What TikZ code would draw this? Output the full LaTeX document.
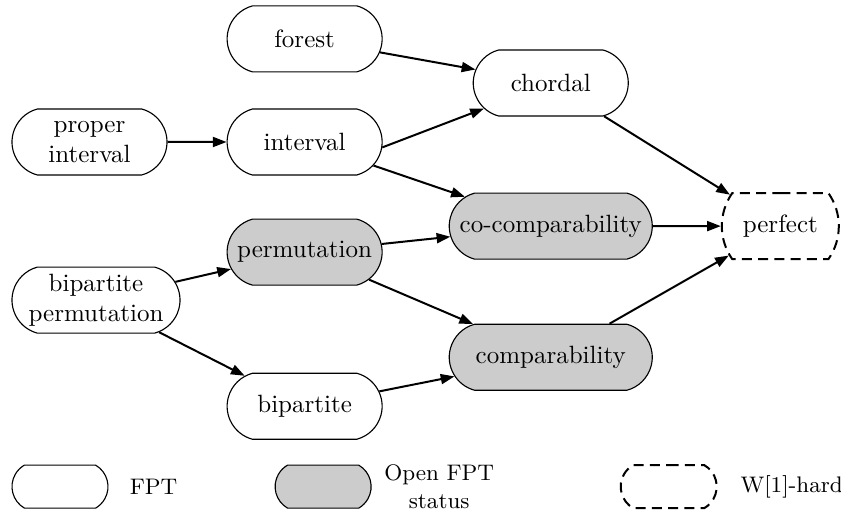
\documentclass[tikz,border=0pt]{standalone}
\usepackage{tikz}
\usetikzlibrary{arrows.meta,positioning,shapes.misc}

\begin{document}
\begin{tikzpicture}[
  node distance=17pt and 24pt,
  cls/.style={draw,line width=.45pt,rounded rectangle,rounded rectangle arc length=150,
    align=center,minimum width=49pt,minimum height=26.4pt,inner xsep=-6.5pt,inner ysep=1pt},
  fpt/.style={cls},
  open/.style={cls,fill=black!20},
  hard/.style={cls,line width=.8pt,dash pattern=on 4pt off 2.5pt,rounded rectangle arc length=70},
  key/.style={minimum width=25.4pt,minimum height=17.2pt,rounded rectangle arc length=120},
  imply/.style={-{Triangle[length=5.5pt,width=4pt]},line width=.8pt}
]
  \useasboundingbox (-35.8pt,-148.4pt) rectangle (300.6pt,56.8pt);
  \node[fpt] (pint) {proper\\interval};
  \node[fpt,right=23.6pt of pint] (interval) {interval};
  \node[fpt,above=14.4pt of interval] (forest) {forest};
  \node[open,below=17.2pt of interval] (perm) {permutation};
  \node[fpt,below=34.8pt of perm] (bip) {bipartite};
  \node[fpt,minimum width=54.2pt,below=36.4pt of pint.south west,anchor=north west] (bipperm) {bipartite\\permutation};
  \node[open,minimum width=68.2pt,right=26.4pt of perm,yshift=10.4pt] (cocomp) {co-comparability};
  \node[fpt,above=30.4pt of cocomp] (chordal) {chordal};
  \node[open,minimum width=68.2pt,below=25.6pt of cocomp] (comp) {comparability};
  \node[hard,minimum width=33.8pt,right=27.2pt of cocomp] (perfect) {perfect};

  % legend
  \node[fpt,key,below=74.6pt of bipperm.west,anchor=west] (keyfpt) {};
  \node[right=5pt of keyfpt,font=\small] (txtfpt) {FPT};
  \node[open,key,right=66.4pt of keyfpt] (keyopen) {};
  \node[right=1.5pt of keyopen,font=\small,align=center] (txtopen) {Open FPT\\status};
  \node[hard,key,right=99.2pt of keyopen] (keyhard) {};
  \node[right=5.6pt of keyhard,font=\small] (txthard) {W[1]-hard};

  \draw[imply] (forest) -- (chordal);
  \draw[imply] (pint) -- (interval);
  \draw[imply] (interval.-4) -- (chordal);
  \draw[imply] (interval) -- (cocomp);
  \draw[imply] (bipperm) -- (perm);
  \draw[imply] (bipperm) -- (bip);
  \draw[imply] (perm) -- (cocomp);
  \draw[imply] (perm) -- (comp);
  \draw[imply] (bip) -- (comp);
  \draw[imply] (chordal) -- (perfect);
  \draw[imply] (cocomp) -- (perfect);
  \draw[imply] (comp) -- (perfect);
\end{tikzpicture}
\end{document}
